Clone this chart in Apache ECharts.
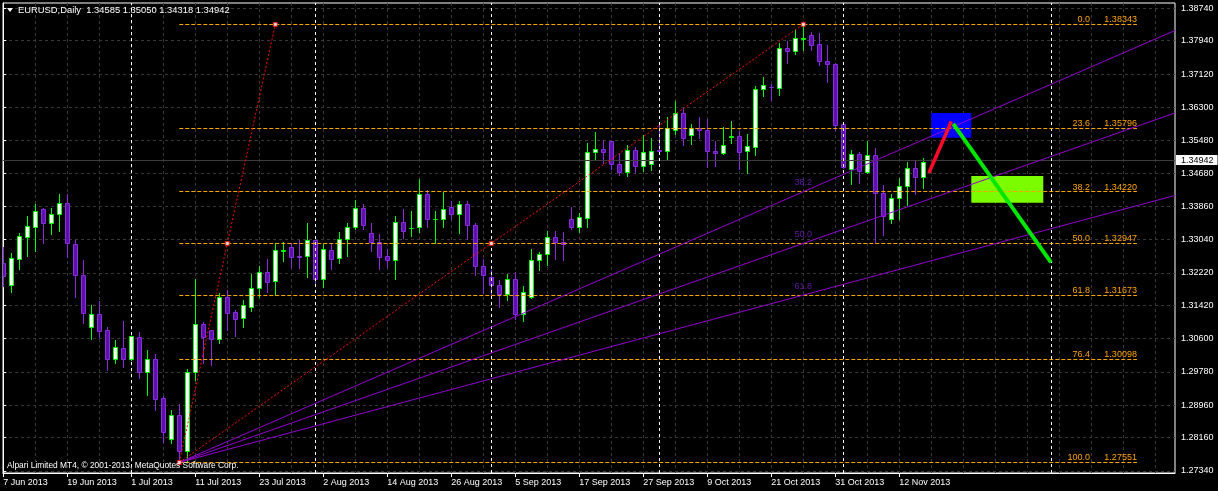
<!DOCTYPE html>
<html><head><meta charset="utf-8">
<script src="https://cdn.jsdelivr.net/npm/echarts@6/dist/echarts.min.js"></script>
<style>html,body{margin:0;padding:0;background:#000;}#c{width:1218px;height:491px;}</style>
</head><body><div id="c"></div>
<script>
// ---- data (EURUSD daily, bar 0 = 7 Jun 2013) ----
const opens = [1.3246,1.3192,1.3257,1.3311,1.3336,1.3379,1.3346,1.3366,1.3394,1.3292,
1.3218,1.3089,1.3120,1.3081,1.3010,1.3038,1.3010,1.3063,1.2979,1.3009,
1.2913,1.2812,1.2871,1.2782,1.2977,1.3097,1.3081,1.3059,1.3162,1.3125,
1.3110,1.3137,1.3184,1.3223,1.3201,1.3277,1.3285,1.3263,1.3263,1.3302,
1.3206,1.3278,1.3258,1.3305,1.3334,1.3381,1.3320,1.3299,1.3264,1.3255,
1.3347,1.3332,1.3334,1.3416,1.3354,1.3354,1.3384,1.3368,1.3391,1.3339,
1.3240,1.3211,1.3191,1.3169,1.3206,1.3120,1.3162,1.3255,1.3268,1.3310,
1.3298,1.3354,1.3334,1.3358,1.3521,1.3528,1.3546,1.3491,1.3471,1.3526,
1.3485,1.3490,1.3524,1.3522,1.3575,1.3617,1.3562,1.3580,1.3573,1.3523,
1.3517,1.3558,1.3560,1.3522,1.3532,1.3674,1.3681,1.3678,1.3776,1.3769,
1.3799,1.3808,1.3785,1.3745,1.3736,1.3588,1.3479,1.3514,1.3471,1.3512,
1.3419,1.3356,1.3406,1.3435,1.3481,1.34585];
const closes = [1.3215,1.3258,1.3313,1.3338,1.3374,1.3344,1.3367,1.3394,1.3295,1.3217,
1.3122,1.3120,1.3079,1.3010,1.3039,1.3009,1.3066,1.2979,1.3011,1.2912,
1.2829,1.2871,1.2782,1.2978,1.3097,1.3064,1.3059,1.3162,1.3124,1.3109,
1.3142,1.3184,1.3223,1.3200,1.3278,1.3278,1.3262,1.3262,1.3302,1.3206,
1.3280,1.3257,1.3305,1.3334,1.3381,1.3339,1.3299,1.3260,1.3255,1.3347,
1.3326,1.3333,1.3416,1.3354,1.3355,1.3379,1.3368,1.3391,1.3339,1.3240,
1.3217,1.3191,1.3169,1.3206,1.3120,1.3175,1.3255,1.3268,1.3310,1.3299,
1.3292,1.3334,1.3359,1.3521,1.3528,1.3520,1.3491,1.3471,1.3526,1.3485,
1.3521,1.3523,1.3523,1.3578,1.3617,1.3555,1.3580,1.3573,1.3522,1.3517,
1.3536,1.3559,1.3520,1.3534,1.3674,1.3684,1.3680,1.3776,1.3769,1.3800,
1.3800,1.3784,1.3744,1.3736,1.3586,1.3482,1.3514,1.3474,1.3512,1.3418,
1.3362,1.3406,1.3436,1.3481,1.3458,1.34942];
const lows = [1.3190,1.3175,1.3232,1.3264,1.3277,1.3295,1.3318,1.3326,1.3262,1.3162,
1.3099,1.3059,1.3064,1.2983,1.3001,1.2991,1.3007,1.2964,1.2922,1.2883,
1.2806,1.2802,1.27551,1.2758,1.2959,1.3000,1.2995,1.3050,1.3081,1.3066,
1.3089,1.3128,1.3163,1.3175,1.3167,1.3252,1.3237,1.3234,1.3212,1.3192,
1.3188,1.3231,1.3246,1.3264,1.3329,1.3331,1.3277,1.3232,1.3237,1.3206,
1.3308,1.3314,1.3323,1.3336,1.3296,1.3334,1.3356,1.3321,1.3305,1.3218,
1.3173,1.3170,1.3138,1.3156,1.3109,1.3104,1.3161,1.3229,1.3242,1.3257,
1.3254,1.3329,1.3323,1.3336,1.3499,1.3494,1.3478,1.3462,1.3461,1.3471,
1.3472,1.3476,1.3514,1.3503,1.3565,1.3537,1.3539,1.3554,1.3482,1.3485,
1.3516,1.3542,1.3478,1.3469,1.3512,1.3657,1.3648,1.3660,1.3740,1.3761,
1.3771,1.3771,1.3734,1.3693,1.3575,1.3480,1.3440,1.3444,1.3467,1.3296,
1.3315,1.3344,1.3356,1.3389,1.3417,1.34318];
const highs = [1.3287,1.3272,1.3320,1.3361,1.3392,1.3381,1.3382,1.3417,1.3417,1.3303,
1.3254,1.3144,1.3153,1.3089,1.3056,1.3103,1.3067,1.3077,1.3032,1.3023,
1.2919,1.2885,1.2899,1.2985,1.3208,1.3101,1.3082,1.3173,1.3180,1.3130,
1.3155,1.3219,1.3239,1.3256,1.3295,1.3298,1.3295,1.3303,1.3346,1.3303,
1.3292,1.3295,1.3324,1.3346,1.3402,1.3393,1.3344,1.3318,1.3281,1.3362,
1.3379,1.3375,1.3453,1.3426,1.3375,1.3421,1.3398,1.3400,1.3400,1.3344,
1.3256,1.3229,1.3204,1.3219,1.3224,1.3190,1.3281,1.3273,1.3325,1.3325,
1.3323,1.3384,1.3369,1.3542,1.3569,1.3549,1.3547,1.3518,1.3536,1.3532,
1.3563,1.3555,1.3592,1.3605,1.3645,1.3629,1.3590,1.3605,1.3602,1.3546,
1.3581,1.3596,1.3572,1.3565,1.3682,1.3704,1.3687,1.3789,1.3794,1.3824,
1.38343,1.3816,1.3812,1.3783,1.3738,1.3589,1.3524,1.3520,1.3547,1.3530,
1.3439,1.3417,1.3455,1.3495,1.3497,1.35050];

const dateTickBars = [0,8,16,24,32,40,48,56,64,72,80,88,96,104,112];
const dateTickLabels = ['7 Jun 2013','19 Jun 2013','1 Jul 2013','11 Jul 2013','23 Jul 2013','2 Aug 2013','14 Aug 2013','26 Aug 2013','5 Sep 2013','17 Sep 2013','27 Sep 2013','9 Oct 2013','21 Oct 2013','31 Oct 2013','12 Nov 2013'];
const priceTicks = [1.2734,1.2816,1.2896,1.2978,1.3060,1.3142,1.3222,1.3304,1.3386,1.3468,1.3548,1.3630,1.3712,1.3794,1.3874];

const fibLevels = [0.0, 23.6, 38.2, 50.0, 61.8, 76.4, 100.0];
const fibPrices = [1.38343, 1.35796, 1.34220, 1.32947, 1.31673, 1.30098, 1.27551];
const fibStartBar = 22, fibEndBar = 141.7;
const fanLevels = [38.2, 50.0, 61.8];
const fanPrices = [1.34220, 1.32947, 1.31673];
const swingLow = [22, 1.27551];
const swingHigh = [100, 1.38343];
const retraceHigh = [34, 1.38343];
const separatorBars = [16, 39, 61, 82, 105, 131];
const blueBox = [[116, 1.3616], [121, 1.3555]];
const greenBox = [[121, 1.3461], [130, 1.3395]];
const redStroke = [[115.7, 1.3468], [118.5, 1.3595]];
const greenStroke = [[118.75, 1.3589], [130.96, 1.3248]];
const bidPrice = 1.34942;
const headerText = 'EURUSD,Daily  1.34585 1.35050 1.34318 1.34942';
const copyrightText = 'Alpari Limited MT4, \u00A9 2001-2013, MetaQuotes Software Corp.';

// ---- chart ----
const X_MIN = -0.0375, X_MAX = 146.4625, Y_MIN = 1.2729, Y_MAX = 1.3887;
const FONT = "'Liberation Sans', Arial, sans-serif";
const FS = 9;
const GRID = '#383838', ORANGE = '#ffa500', FAN = '#9400d3';
const BULL = '#00ff00', BEAR_EDGE = '#8a2be2', BEAR_FILL = '#5c14a8';
const gridBars = Array.from({length: 37}, (_, k) => 4 * k);

const candleData = opens.map((o, i) => [i, o, closes[i], lows[i], highs[i]]);
function extendTo(a, b, xEnd) {
  const t = (xEnd - a[0]) / (b[0] - a[0]);
  return [xEnd, a[1] + (b[1] - a[1]) * t];
}
const mid = (a, b) => [(a[0] + b[0]) / 2, (a[1] + b[1]) / 2];

const chart = echarts.init(document.getElementById('c'));
const series = [];

// bid line + separators
series.push({
  type: 'line', data: [], z: 1, silent: true,
  markLine: {
    silent: true, symbol: ['none', 'none'], animation: false,
    data: [
      { yAxis: bidPrice, lineStyle: { color: '#3c3c3c', type: 'solid', width: 1 },
        label: { show: true, position: 'end', distance: 1, formatter: bidPrice.toFixed(5),
          backgroundColor: '#fff', color: '#000', fontFamily: FONT, fontSize: FS, padding: [1, 4, 0, 5], lineHeight: 9 } },
      ...separatorBars.map(b => ({ xAxis: b, lineStyle: { color: '#fff', type: [3, 3], width: 1 }, label: { show: false } }))
    ]
  }
});

// candles
series.push({
  type: 'custom', z: 3, clip: true, silent: true,
  data: candleData,
  encode: { x: 0, y: [1, 2, 3, 4] },
  renderItem: function (params, api) {
    const i = api.value(0), o = api.value(1), c = api.value(2), l = api.value(3), h = api.value(4);
    const po = api.coord([i, o]), pc = api.coord([i, c]), pl = api.coord([i, l]), ph = api.coord([i, h]);
    const x = Math.floor(po[0]) + 0.5;
    const bull = c >= o;
    const edge = bull ? BULL : BEAR_EDGE;
    const top = Math.round(Math.min(po[1], pc[1])) + 0.5;
    const bot = Math.round(Math.max(po[1], pc[1])) + 0.5;
    return {
      type: 'group', children: [
        { type: 'line', shape: { x1: x, y1: Math.round(ph[1]), x2: x, y2: Math.round(pl[1]) + 1 }, style: { stroke: edge, lineWidth: 1 } },
        { type: 'rect', shape: { x: x - 2, y: top, width: 4, height: bot - top }, style: { fill: bull ? '#ffffff' : BEAR_FILL, stroke: edge, lineWidth: 1 } }
      ]
    };
  }
});

// fibonacci retracement levels
series.push({
  type: 'line', data: [], z: 4, silent: true,
  markLine: {
    silent: true, symbol: ['none', 'none'], animation: false,
    lineStyle: { color: ORANGE, type: [4, 2], width: 1 },
    data: fibLevels.map((lv, k) => [
      { coord: [fibStartBar, fibPrices[k]],
        label: { show: true, position: 'insideEndTop', distance: [0, 0],
          formatter: '{p|' + lv.toFixed(1) + '}{v|' + fibPrices[k].toFixed(5) + '}',
          rich: { p: { color: ORANGE, fontFamily: FONT, fontSize: FS },
                  v: { color: ORANGE, fontFamily: FONT, fontSize: FS, width: 47, align: 'right' } } } },
      { coord: [fibEndBar, fibPrices[k]] }
    ])
  }
});

// rectangles
series.push({
  type: 'line', data: [], z: 5, silent: true,
  markArea: {
    silent: true, animation: false,
    data: [
      [{ coord: blueBox[0], itemStyle: { color: '#0000ff' } }, { coord: blueBox[1] }],
      [{ coord: greenBox[0], itemStyle: { color: '#7cfc00' } }, { coord: greenBox[1] }]
    ]
  }
});

// fibonacci fan lines
fanPrices.forEach(p => {
  series.push({
    type: 'line', z: 6, silent: true, symbol: 'none', animation: false,
    data: [swingLow, extendTo(swingLow, [swingHigh[0], p], X_MAX)],
    lineStyle: { color: FAN, width: 1 }
  });
});
// fan labels
series.push({
  type: 'scatter', z: 6, silent: true, symbolSize: 1, itemStyle: { color: 'rgba(0,0,0,0)' },
  data: fanLevels.map((lv, k) => ({ value: [swingHigh[0], fanPrices[k]], name: lv.toFixed(1) })),
  label: { show: true, position: 'top', distance: 4, formatter: '{b}', color: '#7a1ec8', fontFamily: FONT, fontSize: FS }
});
// red dotted base lines
[[swingLow, retraceHigh], [swingLow, swingHigh]].forEach(seg => {
  series.push({
    type: 'line', z: 6, silent: true, symbol: 'none', animation: false,
    data: seg, lineStyle: { color: '#ff0000', width: 1, type: [2, 2] }
  });
});
// anchor squares
series.push({
  type: 'scatter', z: 7, silent: true, symbol: 'rect', symbolSize: 4,
  itemStyle: { color: '#ffffff', borderColor: '#ff0000', borderWidth: 1 },
  data: [retraceHigh, swingHigh, mid(swingLow, retraceHigh), mid(swingLow, swingHigh), swingLow]
});
// hand drawn strokes
series.push({
  type: 'line', z: 8, silent: true, symbol: 'none', animation: false,
  data: redStroke, lineStyle: { color: '#ff0a2a', width: 3.5, cap: 'butt' }
});
series.push({
  type: 'line', z: 8, silent: true, symbol: 'none', animation: false,
  data: greenStroke, lineStyle: { color: '#00e600', width: 4, cap: 'butt' }
});

chart.setOption({
  animation: false,
  backgroundColor: '#000',
  grid: { left: 3, right: 43, top: 3, bottom: 18, show: true, borderColor: '#fff', borderWidth: 1,
          backgroundColor: '#000', containLabel: false, outerBoundsMode: 'none' },
  xAxis: [{
    type: 'value', min: X_MIN, max: X_MAX, position: 'bottom',
    axisLine: { show: true, lineStyle: { color: '#fff' } },
    axisTick: { show: true, length: 4, lineStyle: { color: '#fff' }, customValues: dateTickBars },
    axisLabel: { show: true, color: '#fff', fontFamily: FONT, fontSize: FS, margin: 5, align: 'left',
      customValues: dateTickBars, formatter: v => dateTickLabels[dateTickBars.indexOf(Math.round(v))] || '' },
    splitLine: { show: false }
  }, {
    type: 'value', min: X_MIN, max: X_MAX, position: 'bottom',
    axisLine: { show: false }, axisLabel: { show: false },
    axisTick: { show: false, customValues: gridBars },
    splitLine: { show: true, lineStyle: { color: GRID, type: [3, 3], width: 1 } }
  }],
  yAxis: {
    type: 'value', position: 'right', min: Y_MIN, max: Y_MAX,
    axisLine: { show: true, lineStyle: { color: '#fff' } },
    axisTick: { show: true, length: 3, lineStyle: { color: '#fff' }, customValues: priceTicks },
    axisLabel: { show: true, color: '#fff', fontFamily: FONT, fontSize: FS, margin: 6,
      customValues: priceTicks, formatter: v => v.toFixed(5) },
    splitLine: { show: true, lineStyle: { color: GRID, type: [3, 3], width: 1 } }
  },
  graphic: [
    { type: 'polygon', shape: { points: [[7, 8], [13, 8], [10, 12]] }, style: { fill: '#fff' }, z: 100 },
    { type: 'text', left: 18, top: 6, z: 100, style: { text: headerText, fill: '#fff', font: '9.4px ' + FONT } },
    { type: 'text', left: 7, top: 462, z: 100, style: { text: copyrightText, fill: '#fff', font: '8.4px ' + FONT } }
  ],
  series: series
});
</script></body></html>
